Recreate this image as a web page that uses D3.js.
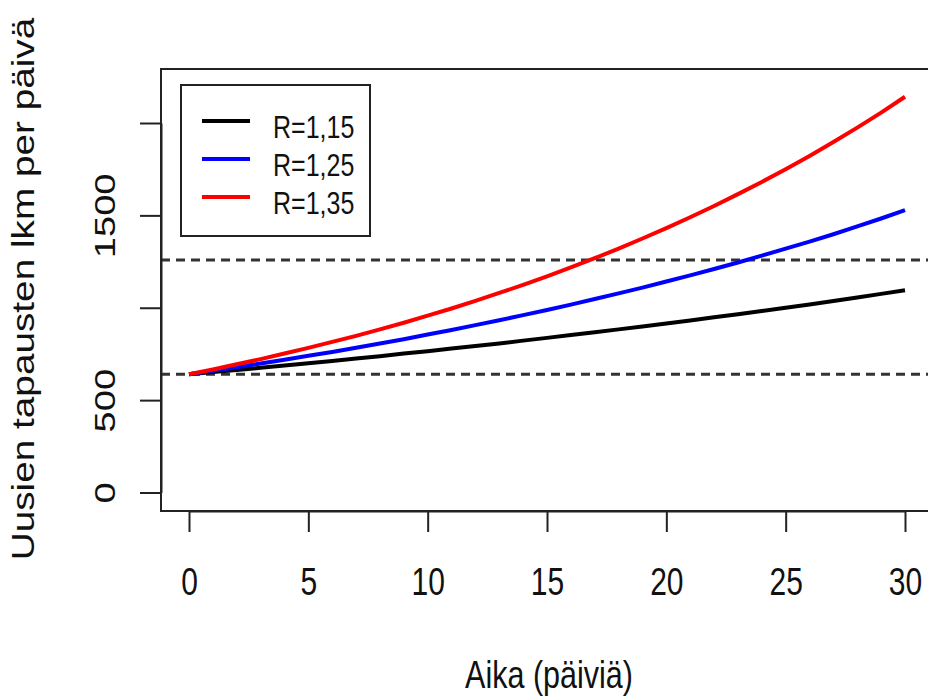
<!DOCTYPE html>
<html>
<head>
<meta charset="utf-8">
<script src="https://cdn.jsdelivr.net/npm/d3@7"></script>
<style>
  html, body { margin: 0; padding: 0; background: #fff; }
  svg text { font-family: "Liberation Sans", Arial, sans-serif; fill: #111; }
</style>
</head>
<body>
<div id="chart"></div>
<script>
// days 0..30
const days = d3.range(0, 31);

// new cases per day
const seriesR115 = [640, 652, 663, 675, 687, 700, 712, 725, 738, 752, 765, 779, 793, 807, 822, 837,
                    852, 867, 883, 898, 915, 931, 948, 965, 982, 1000, 1018, 1036, 1055, 1075, 1095];
const seriesR125 = [640, 659, 678, 698, 719, 740, 761, 784, 807, 830, 855, 880, 906, 932, 960, 988,
                    1017, 1047, 1078, 1109, 1142, 1175, 1210, 1245, 1282, 1320, 1358, 1398, 1440, 1483, 1528];
const seriesR135 = [640, 666, 694, 722, 752, 783, 815, 848, 883, 919, 957, 996, 1037, 1080, 1124, 1170,
                    1218, 1268, 1320, 1375, 1431, 1490, 1551, 1615, 1681, 1750, 1822, 1897, 1975, 2056, 2142];

const seriesNames = ["R=1,15", "R=1,25", "R=1,35"];
const seriesColors = ["#000000", "#0000ff", "#ff0000"];
const refLevels = [640, 1259];

const xTicks = [0, 5, 10, 15, 20, 25, 30];
const yTicks = [0, 500, 1000, 1500, 2000];
const yTickLabels = ["0", "500", "", "1500", ""];

const width = 928, height = 696;
const box = { left: 161, top: 69, right: 934, bottom: 511 };
const stretch = 1.27; // picture is taller than wide

const svg = d3.select('#chart')
    .append('svg')
    .attr('width', width)
    .attr('height', height);

const x = d3.scaleLinear().domain([0, 30]).range([189, 905]);
const y = d3.scaleLinear().domain([0, 2000]).range([492.5, 123]);

// clip to plot box
svg.append('clipPath').attr('id', 'plotclip')
    .append('rect')
    .attr('x', box.left).attr('y', box.top)
    .attr('width', box.right - box.left).attr('height', box.bottom - box.top);

const plot = svg.append('g').attr('clip-path', 'url(#plotclip)');

// dashed reference lines
plot.selectAll('.ref')
    .data(refLevels)
    .join('line')
    .attr('class', 'ref')
    .attr('x1', box.left)
    .attr('x2', box.right)
    .attr('y1', d => y(d))
    .attr('y2', d => y(d))
    .attr('stroke', '#333')
    .attr('stroke-width', 3)
    .attr('stroke-dasharray', '9,6');

const line = d3.line()
    .x((d, i) => x(days[i]))
    .y(d => y(d));

const allSeries = [seriesR115, seriesR125, seriesR135];

plot.selectAll('.series')
    .data(allSeries)
    .join('path')
    .attr('class', 'series')
    .attr('d', d => line(d))
    .attr('fill', 'none')
    .attr('stroke', (d, i) => seriesColors[i])
    .attr('stroke-width', 4)
    .attr('stroke-linejoin', 'round');

// box
svg.append('rect')
    .attr('x', box.left).attr('y', box.top)
    .attr('width', box.right - box.left).attr('height', box.bottom - box.top)
    .attr('fill', 'none')
    .attr('stroke', '#222')
    .attr('stroke-width', 2);

// x axis
const xAxis = svg.append('g')
    .attr('transform', `translate(0, ${box.bottom})`)
    .call(d3.axisBottom(x)
        .tickValues(xTicks)
        .tickSize(21)
        .tickSizeOuter(0)
        .tickFormat(d => d));

xAxis.select('.domain').attr('stroke', '#222').attr('stroke-width', 2);
xAxis.selectAll('.tick line').attr('stroke', '#222').attr('stroke-width', 2);
xAxis.selectAll('.tick text')
    .attr('y', null)
    .attr('dy', null)
    .attr('transform', `translate(0, ${595 - box.bottom}) scale(1, ${stretch})`)
    .style('font-size', '30px')
    .attr('text-anchor', 'middle');

// y axis
const yAxis = svg.append('g')
    .attr('transform', `translate(${box.left}, 0)`)
    .call(d3.axisLeft(y)
        .tickValues(yTicks)
        .tickSize(21)
        .tickSizeOuter(0)
        .tickFormat((d, i) => yTickLabels[i]));

yAxis.select('.domain').attr('stroke', '#222').attr('stroke-width', 2);
yAxis.selectAll('.tick line').attr('stroke', '#222').attr('stroke-width', 2);
yAxis.selectAll('.tick text')
    .attr('x', null)
    .attr('dy', null)
    .attr('transform', `translate(${115 - box.left}, 0) scale(1, ${stretch}) rotate(-90)`)
    .style('font-size', '30px')
    .attr('text-anchor', 'middle');

// axis titles
svg.append('text')
    .attr('transform', `translate(549, 688) scale(1, ${stretch})`)
    .attr('text-anchor', 'middle')
    .style('font-size', '30.5px')
    .text('Aika (päiviä)');

svg.append('text')
    .attr('transform', `translate(34, 289) scale(1, ${stretch}) rotate(-90)`)
    .attr('text-anchor', 'middle')
    .style('font-size', '30.5px')
    .text('Uusien tapausten lkm per päivä');

// legend
const legend = svg.append('g');
legend.append('rect')
    .attr('x', 181).attr('y', 85)
    .attr('width', 189).attr('height', 151)
    .attr('fill', '#fff')
    .attr('stroke', '#222')
    .attr('stroke-width', 2);

const items = legend.selectAll('.item')
    .data(seriesNames)
    .join('g')
    .attr('class', 'item')
    .attr('transform', (d, i) => `translate(0, ${121 + i * 38})`);

items.append('line')
    .attr('x1', 202).attr('x2', 250)
    .attr('y1', 0).attr('y2', 0)
    .attr('stroke', (d, i) => seriesColors[i])
    .attr('stroke-width', 4);

items.append('text')
    .attr('transform', `translate(273, 17) scale(1, ${stretch})`)
    .style('font-size', '25px')
    .text(d => d);
</script>
</body>
</html>
